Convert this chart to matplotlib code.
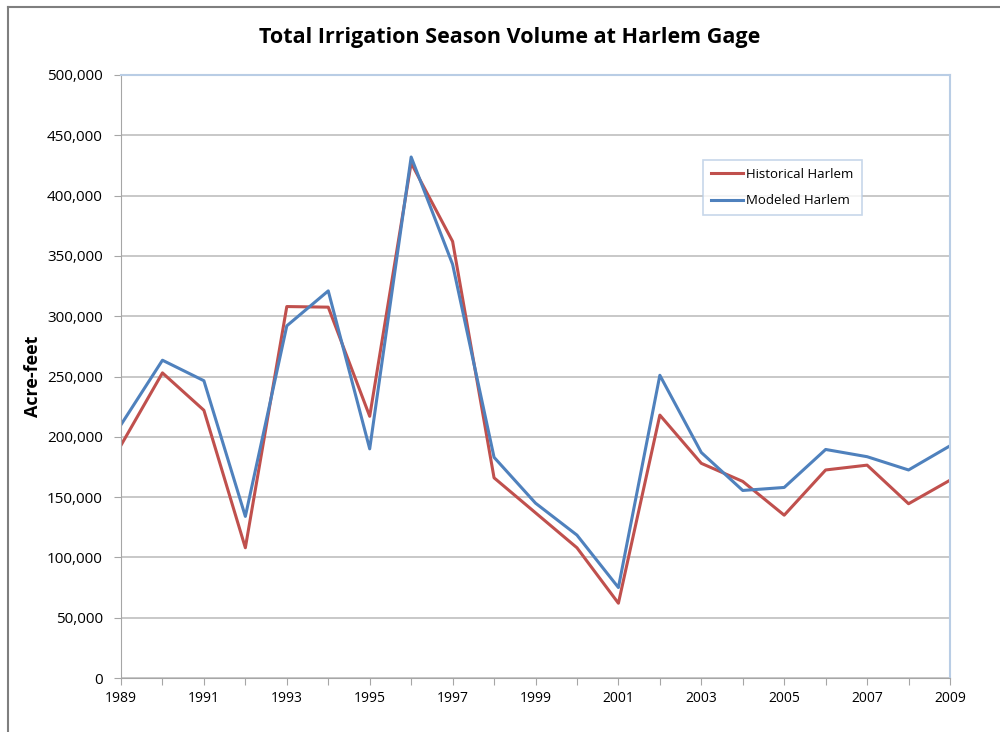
"""
Total irrigation season volume at Harlem gage
"""

from matplotlib import pyplot as plt
from matplotlib.lines import Line2D
import numpy as np

years = np.arange(1989, 2010)
historical = [193000, 253000, 222000, 108000, 308000, 307500, 217000, 427000,
              362000, 166000, 137000, 108000, 62000, 218000, 178000, 163000,
              135000, 172500, 176500, 144500, 164000]
modeled = [210000, 263500, 246500, 134000, 292000, 321000, 190000, 432000,
           343000, 183000, 145000, 118500, 75000, 251000, 187000, 155500,
           158000, 189500, 183500, 172500, 192500]
ytick_vals = np.arange(0, 500001, 50000)
xtick_labels = [str(y) if (y - 1989) % 2 == 0 else "" for y in years]

plt.rcParams['font.family'] = ['Open Sans', 'DejaVu Sans']

fig = plt.figure(figsize=(10, 7.32), dpi=100)
ax = fig.add_axes([0.121, 1 - 678 / 732, 0.829, (678 - 75) / 732])

ax.plot(years, historical, color="#C0504D", lw=2.2, label="Historical Harlem")
ax.plot(years, modeled, color="#4F81BD", lw=2.2, label="Modeled Harlem")

ax.set_xlim(1989, 2009)
ax.set_ylim(0, 500000)
ax.set_xticks(years)
ax.set_xticklabels(xtick_labels, fontsize=10)
ax.set_yticks(ytick_vals)
ax.set_yticklabels([f"{v:,}" for v in ytick_vals], fontsize=11)
ax.tick_params(axis="both", direction="out", length=5, color="#A6A6A6", pad=4)
ax.tick_params(axis="y", pad=8)
ax.grid(axis="y", color="#BFBFBF", lw=1.2)
ax.set_axisbelow(True)
for s in ["left", "bottom"]:
    ax.spines[s].set_color("#A6A6A6")
for s in ["top", "right"]:
    ax.spines[s].set_color("#B9CDE5")
    ax.spines[s].set_linewidth(1.5)

ax.set_ylabel("Acre-feet", fontsize=13, fontweight="bold", labelpad=4)
fig.text(0.51, 1 - 37 / 732, "Total Irrigation Season Volume at Harlem Gage",
         ha="center", va="center", fontsize=15.5, fontweight="bold")

leg = ax.legend(loc="upper left", bbox_to_anchor=(0.702, 0.859), fontsize=9.5,
                frameon=True, fancybox=False, handlelength=2.4, borderaxespad=0,
                borderpad=0.6, labelspacing=1.0, handletextpad=0.3)
leg.get_frame().set_edgecolor("#B9CDE5")
leg.get_frame().set_linewidth(1.2)

# outer chart frame (cropped at top and left)
fig.add_artist(Line2D([8 / 1000, 8 / 1000], [0, 1 - 7 / 732], color="#7F7F7F", lw=1.5))
fig.add_artist(Line2D([8 / 1000, 1], [1 - 7 / 732, 1 - 7 / 732], color="#7F7F7F", lw=1.5))

fig.savefig("out.png", dpi=100)
